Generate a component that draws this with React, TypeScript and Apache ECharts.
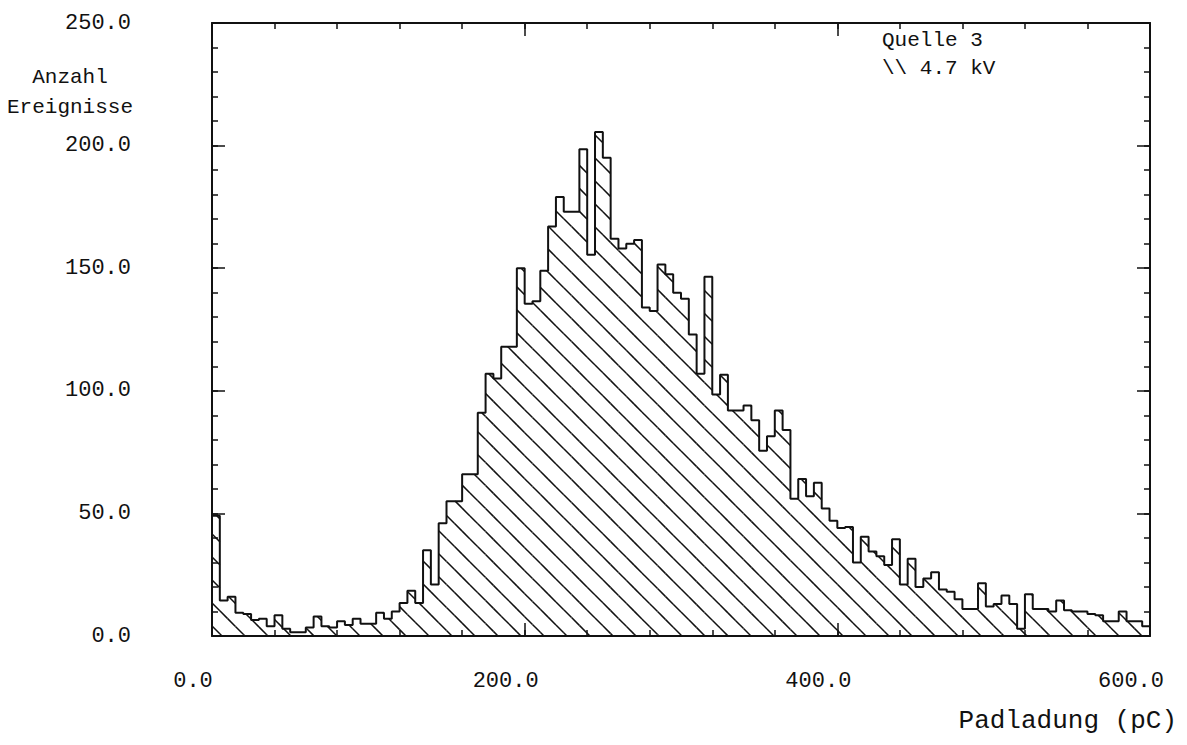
import React, { useEffect, useRef } from "react";
import * as echarts from "echarts";

// Histogram: bin width 5 pC, 120 bins from 0 to 600 pC
const BIN_WIDTH = 5;
const counts: number[] = [
  49, 14.5, 16, 9.5, 9, 6.5, 7, 4, 8.5, 3, 1.5, 1.5, 3.5, 8, 4, 3.5, 6, 4.5, 7, 5,
  5, 9.5, 7, 10, 13.5, 18.5, 13.5, 35, 21, 46, 55, 55, 66, 66, 91, 107, 105, 118, 118, 150,
  135.5, 136.5, 149, 167, 179, 173, 173, 198.5, 155.5, 205.5, 195, 162, 158, 160, 161.5, 134, 132.5, 151.5, 147.5, 140,
  137.5, 123, 107, 146.5, 98.5, 106.5, 92, 92, 94, 88, 75.5, 81.5, 92, 84, 56, 64, 57, 62.5, 52, 47,
  44, 44.5, 30, 40.5, 34.5, 32.5, 29, 39.5, 21, 31.5, 20, 23.5, 26, 19, 18, 15, 11, 11, 21.5, 12,
  13, 16.5, 13, 3, 17, 11, 11, 10, 14.5, 10.5, 10, 10, 9, 8.5, 6, 6, 10, 6, 6, 4,
];

const X_MIN = 0;
const X_MAX = 600;
const X_MAJOR = 200;
const X_MINOR = 40;
const Y_MIN = 0;
const Y_MAX = 250;
const Y_MAJOR = 50;
const Y_MINOR = 10;

const yTitleLines = ["Anzahl", "Ereignisse"];
const xTitle = "Padladung (pC)";
const legendLines = ["Quelle 3", "\\\\ 4.7 kV"];

const INK = "#111";
const MONO = '"Liberation Mono", "DejaVu Sans Mono", monospace';

export default function App() {
  const ref = useRef<HTMLDivElement>(null);

  useEffect(() => {
    if (!ref.current) return;
    const chart = echarts.init(ref.current, null, { renderer: "svg" });

    const n = counts.length;
    const outline: number[][] = [[0, 0]];
    counts.forEach((v, i) => outline.push([i * BIN_WIDTH, v]));
    outline.push([n * BIN_WIDTH, counts[n - 1]]);
    outline.push([n * BIN_WIDTH, 0]);

    const hatchData = counts.map((v, i) => [i * BIN_WIDTH, (i + 1) * BIN_WIDTH, v]);
    const HATCH_GAP = 23;

    const renderHatch = (_params: any, api: any) => {
      const p0 = api.coord([api.value(0), api.value(2)]);
      const p1 = api.coord([api.value(1), 0]);
      const xa = p0[0];
      const xb = p1[0];
      const yt = p0[1];
      const yb = p1[1];
      const children: any[] = [];
      const cMin = yt - xb;
      const cMax = yb - xa;
      for (let k = Math.ceil(cMin / HATCH_GAP); k <= Math.floor(cMax / HATCH_GAP); k++) {
        const c = k * HATCH_GAP;
        const sx = Math.max(xa, yt - c);
        const ex = Math.min(xb, yb - c);
        if (ex - sx > 0.01) {
          children.push({
            type: "line",
            shape: { x1: sx, y1: sx + c, x2: ex, y2: ex + c },
            style: { stroke: INK, lineWidth: 1.5 },
          });
        }
      }
      return { type: "group", children };
    };

    const axisLineStyle = { show: true, onZero: false, lineStyle: { color: INK, width: 2 } };
    const noLine = { show: false, onZero: false };
    const fmt = (v: number) => v.toFixed(1);

    const xAxisBase = {
      type: "value" as const,
      min: X_MIN,
      max: X_MAX,
      splitLine: { show: false },
    };
    const yAxisBase = {
      type: "value" as const,
      min: Y_MIN,
      max: Y_MAX,
      splitLine: { show: false },
    };

    chart.setOption({
      animation: false,
      backgroundColor: "#fff",
      grid: { left: 212, right: 37, top: 23, bottom: 109, outerBoundsMode: "none" },
      xAxis: [
        {
          ...xAxisBase,
          position: "bottom",
          interval: X_MAJOR,
          axisLine: axisLineStyle,
          axisTick: { show: true, inside: true, length: 13, lineStyle: { color: INK, width: 1.5 } },
          axisLabel: {
            show: true,
            formatter: fmt,
            margin: 34,
            color: INK,
            fontFamily: MONO,
            fontSize: 22,
            padding: [0, 38, 0, 0],
          },
        },
        {
          ...xAxisBase,
          position: "bottom",
          interval: X_MINOR,
          axisLine: noLine,
          axisTick: { show: true, inside: true, length: 6, lineStyle: { color: INK, width: 1.5 } },
          axisLabel: { show: false },
        },
        {
          ...xAxisBase,
          position: "top",
          interval: X_MAJOR,
          axisLine: axisLineStyle,
          axisTick: { show: true, inside: true, length: 13, lineStyle: { color: INK, width: 1.5 } },
          axisLabel: { show: false },
        },
        {
          ...xAxisBase,
          position: "top",
          interval: X_MINOR,
          axisLine: noLine,
          axisTick: { show: true, inside: true, length: 6, lineStyle: { color: INK, width: 1.5 } },
          axisLabel: { show: false },
        },
      ],
      yAxis: [
        {
          ...yAxisBase,
          position: "left",
          interval: Y_MAJOR,
          axisLine: axisLineStyle,
          axisTick: { show: true, inside: true, length: 13, lineStyle: { color: INK, width: 1.5 } },
          axisLabel: {
            show: true,
            formatter: fmt,
            margin: 81,
            color: INK,
            fontFamily: MONO,
            fontSize: 22,
          },
        },
        {
          ...yAxisBase,
          position: "left",
          interval: Y_MINOR,
          axisLine: noLine,
          axisTick: { show: true, inside: true, length: 6, lineStyle: { color: INK, width: 1.5 } },
          axisLabel: { show: false },
        },
        {
          ...yAxisBase,
          position: "right",
          interval: Y_MAJOR,
          axisLine: axisLineStyle,
          axisTick: { show: true, inside: true, length: 13, lineStyle: { color: INK, width: 1.5 } },
          axisLabel: { show: false },
        },
        {
          ...yAxisBase,
          position: "right",
          interval: Y_MINOR,
          axisLine: noLine,
          axisTick: { show: true, inside: true, length: 6, lineStyle: { color: INK, width: 1.5 } },
          axisLabel: { show: false },
        },
      ],
      series: [
        {
          type: "custom",
          name: "hatch",
          xAxisIndex: 0,
          yAxisIndex: 0,
          data: hatchData,
          encode: { x: [0, 1], y: 2 },
          renderItem: renderHatch,
          silent: true,
          z: 2,
        },
        {
          type: "line",
          name: "outline",
          xAxisIndex: 0,
          yAxisIndex: 0,
          data: outline,
          step: "end",
          showSymbol: false,
          symbol: "none",
          lineStyle: { color: INK, width: 2 },
          silent: true,
          z: 3,
        },
      ],
      graphic: [
        {
          type: "text",
          x: 70,
          y: 62,
          style: {
            text: yTitleLines.join("\n"),
            font: `21px ${MONO}`,
            fill: INK,
            textAlign: "center",
            textVerticalAlign: "top",
            lineHeight: 30,
          },
        },
        {
          type: "text",
          x: 1177,
          y: 721,
          style: {
            text: xTitle,
            font: `26px ${MONO}`,
            fill: INK,
            textAlign: "right",
            textVerticalAlign: "middle",
          },
        },
        {
          type: "text",
          x: 882,
          y: 26,
          style: {
            text: legendLines.join("\n"),
            font: `21px ${MONO}`,
            fill: INK,
            textAlign: "left",
            textVerticalAlign: "top",
            lineHeight: 28,
          },
        },
      ],
    });

    return () => chart.dispose();
  }, []);

  return (
    <div
      ref={ref}
      style={{ position: "fixed", left: 0, top: 0, width: 1187, height: 745, background: "#fff" }}
    />
  );
}
